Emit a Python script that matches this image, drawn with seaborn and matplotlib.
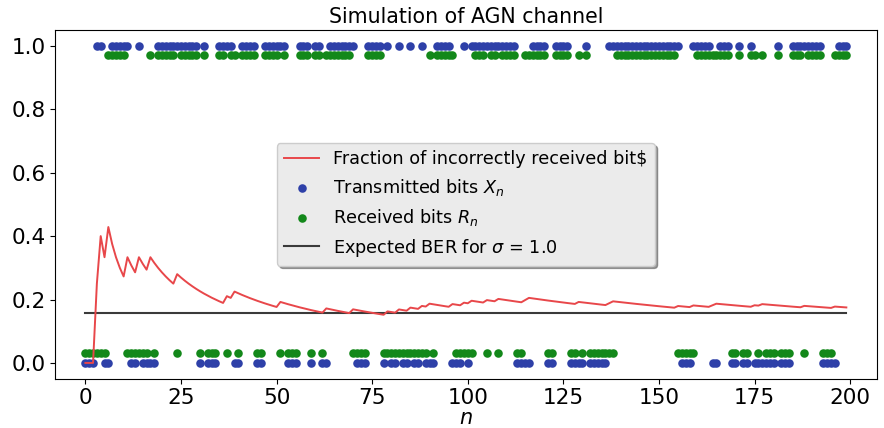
import numpy as np
import matplotlib
matplotlib.use("Agg")
import matplotlib.pyplot as plt
import seaborn as sns

# ---- data ----
transmitted_bits = (
    "0001100111" "1100100001" "1111111111" "0100011110" "0111100111"
    "1110001110" "1100111111" "1000111101" "0010010010" "0011110001"
    "0111111111" "1110000111" "1001111000" "0100000111" "1111111111"
    "1111110001" "1111001110" "0100100000" "0100011111" "1110000111"
)
received_bits = (
    "0000001111" "1000000101" "1111011111" "0100011011" "0111100111"
    "1010001110" "1101111111" "0000111100" "0000000000" "1011111000"
    "0011101101" "1110011111" "1001111001" "0100000001" "1111111111"
    "1111100000" "1111111110" "0100110100" "0100011101" "1110001111"
)
sigma = 1.0
expected_ber = 0.1587
x_ticks = [0, 25, 50, 75, 100, 125, 150, 175, 200]
y_ticks = [0.0, 0.2, 0.4, 0.6, 0.8, 1.0]

X = np.array([int(c) for c in transmitted_bits])
R = np.array([int(c) for c in received_bits])
n = np.arange(len(X))
frac = np.cumsum(X != R) / (n + 1)

fig, ax = plt.subplots(figsize=(8.84, 4.28), dpi=100)
fig.subplots_adjust(left=0.062, right=0.992, bottom=0.115, top=0.93)

sns.lineplot(x=n, y=frac, color="#e8474a", lw=1.4, ax=ax, zorder=4,
             label="Fraction of incorrectly received bit\\$")
sns.scatterplot(x=n, y=X, color="#2e40a8", s=38, linewidth=0, ax=ax, zorder=3,
                label="Transmitted bits $X_n$")
sns.scatterplot(x=n, y=0.03 + 0.94 * R, color="#13881a", s=38, linewidth=0, ax=ax, zorder=3,
                label="Received bits $R_n$")
sns.lineplot(x=[n[0], n[-1]], y=[expected_ber, expected_ber], color="#3a3a3a", lw=1.5, ax=ax,
             zorder=2, label=r"Expected BER for $\sigma$ = %.1f" % sigma)

ax.set_xlim(-8, 207)
ax.set_ylim(-0.05, 1.05)
ax.set_xticks(x_ticks)
ax.set_yticks(y_ticks)
ax.tick_params(labelsize=15.5, pad=3)
ax.set_title("Simulation of AGN channel", fontsize=14.8, pad=5)
ax.set_xlabel("$n$", fontsize=15, labelpad=0)

leg = ax.legend(loc="center", fontsize=12.7, facecolor="#ebebeb", framealpha=1,
                shadow=True, scatterpoints=1, edgecolor="#cccccc")

fig.savefig("out.png", dpi=100)
